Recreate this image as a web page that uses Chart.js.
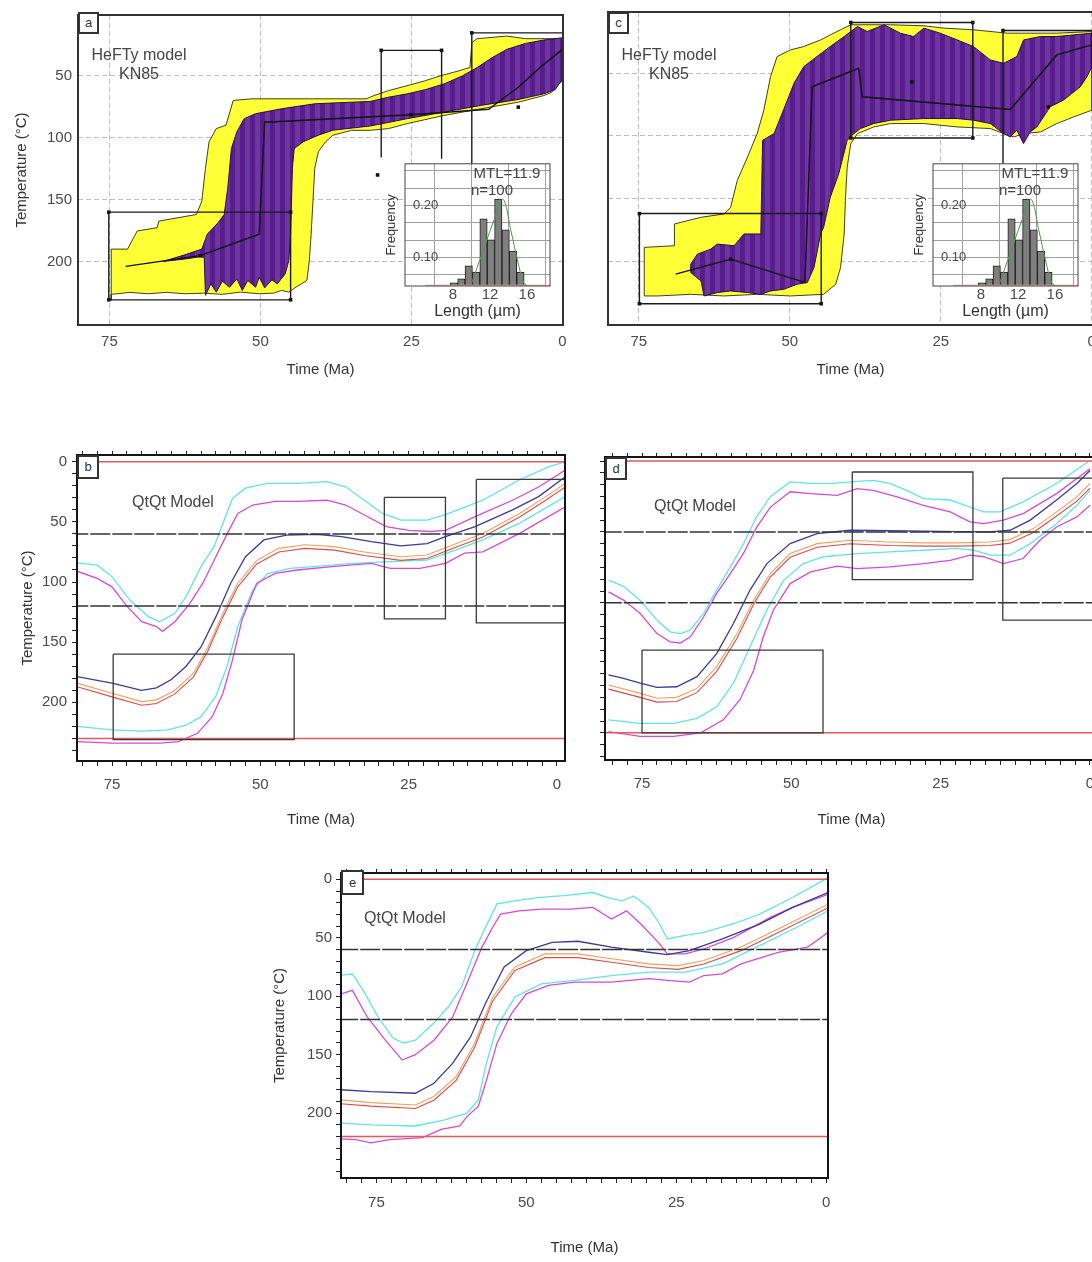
<!DOCTYPE html>
<html>
<head>
<meta charset="utf-8">
<title>HeFTy and QtQt thermal history models</title>
<script src="https://cdn.jsdelivr.net/npm/chart.js@4.4.1/dist/chart.umd.min.js"></script>
<style>
  html, body { margin:0; padding:0; overflow:hidden; background:#fff; }
  body { position:relative; width:1092px; height:1262px; font-family:"Liberation Sans", Arial, sans-serif; }
  canvas { position:absolute; }
  .tag { position:absolute; box-sizing:border-box; border:2px solid #333; background:#fff; color:#333; font-size:13px; text-align:center; }
  .note { position:absolute; transform:translate(-50%,-50%); white-space:nowrap; color:#444; font-size:16px; }
  .small { font-size:15px; }
</style>
</head>
<body>
<canvas id="cA" width="590" height="390" style="left:0;top:0"></canvas>
<canvas id="cC" width="590" height="390" style="left:530px;top:0"></canvas>
<canvas id="cB" width="590" height="400" style="left:0;top:440px"></canvas>
<canvas id="cD" width="592" height="400" style="left:528px;top:440px"></canvas>
<canvas id="cE" width="590" height="402" style="left:260px;top:860px"></canvas>
<canvas id="hA" width="190" height="180" style="left:370px;top:148px"></canvas>
<canvas id="hC" width="190" height="180" style="left:898px;top:148px"></canvas>

<div class="tag" style="left:78px;top:12px;width:21px;height:22px;line-height:18px">a</div>
<div class="tag" style="left:608px;top:12px;width:21px;height:22px;line-height:18px">c</div>
<div class="tag" style="left:77px;top:455px;width:22px;height:24px;line-height:20px">b</div>
<div class="tag" style="left:605px;top:457px;width:22px;height:23px;line-height:19px">d</div>
<div class="tag" style="left:341px;top:870px;width:23px;height:25px;line-height:21px">e</div>

<div class="note" style="left:139px;top:55px">HeFTy model</div>
<div class="note" style="left:139px;top:74px">KN85</div>
<div class="note" style="left:669px;top:55px">HeFTy model</div>
<div class="note" style="left:669px;top:74px">KN85</div>
<div class="note small" style="left:507px;top:172px">MTL=11.9</div>
<div class="note small" style="left:492px;top:189px">n=100</div>
<div class="note small" style="left:1035px;top:172px">MTL=11.9</div>
<div class="note small" style="left:1020px;top:189px">n=100</div>
<div class="note" style="left:173px;top:502px">QtQt Model</div>
<div class="note" style="left:695px;top:506px">QtQt Model</div>
<div class="note" style="left:405px;top:918px">QtQt Model</div>

<script>
// ---------- data: [time (Ma), temperature (°C)] ----------
// panel a, HeFTy
const aYellow = [[74.7,231.1],[74.7,189.8],[72.0,189.8],[70.4,175.2],[67.1,172.5],[66.8,167.2],[60.6,161.9],[59.7,151.2],[59.1,124.6],[58.5,103.2],[57.3,92.6],[55.7,89.9],[54.5,69.9],[51.4,68.6],[44.1,68.6],[32.5,68.6],[31.2,66],[28.8,62],[25.7,58],[22.7,54],[20.2,50],[17.1,46],[15.3,43.3],[15.0,23.3],[14.1,20.1],[9.2,18],[6.1,20.1],[0,20.1],
  [0,54],[0.9,58],[1.8,63.4],[3.1,66],[7.3,71.3],[13.5,76.6],[19.6,82],[25.7,88.6],[28.8,92.6],[31.8,94],[34.9,94],[38,98],[39.2,103.2],[40.4,111.2],[41,124.6],[41.3,151.2],[41.6,177.8],[41.9,199.1],[42.3,215.1],[44.1,220.4],[45.3,224.5],[46.5,223.1],[47.8,225.3],[50.2,225.8],[53.3,224.5],[56.3,226.3],[59.4,225.3],[62.5,225.8],[65.5,224.7],[68.6,225.8],[71.6,224.7],[74.7,226.3],[74.7,231.1]];
const aPurple = [[66.1,199.7],[62.5,194.4],[59.7,189.8],[58.8,177.8],[57.0,168.5],[56.0,161.9],[55.4,140.5],[54.8,108.6],[53.9,95.3],[52.7,84.6],[50.8,80.6],[46.5,76.6],[41.0,72.6],[34.9,71.3],[31.8,70.7],[28.8,67.3],[25.7,64.6],[22.7,61.2],[19.6,56.6],[16.5,50],[14.1,43.3],[11.6,35.3],[9.2,28.7],[6.1,23.9],[3.1,21.2],[0,19.4],
  [0,52.6],[1.2,61.2],[3.1,64.6],[7.3,69.1],[13.5,73.9],[19.6,79.3],[25.7,84.6],[31.8,90.5],[38.0,93.9],[40.4,97.9],[42.9,103.2],[44.4,108.6],[44.7,124.6],[45.0,177.8],[45.3,199.1],[45.9,209.8],[47.2,217.8],[48.1,214.6],[49.3,221.0],[50.2,212.5],[50.8,220.5],[52.1,215.1],[53.0,223.1],[53.9,213.8],[55.1,220.5],[56.3,215.7],[57.3,224.5],[58.2,217.8],[59.1,227.1],[59.3,196.5],[60.0,195.9],[62.5,197.8],[66.1,199.7]];
const aBest = [[72.3,203.7],[60,195.1],[50.2,177.8],[49.3,87.3],[48.4,87.3],[25.1,81.4],[12.2,77],[11,72.6],[7.3,59.3],[3.7,43.3],[0,28.7]];
const aDots = [[60,195.1],[25.1,81.4],[7.3,75.3],[75.1,160],[45,160],[75.1,230.7],[45,230.7],[30,29.5],[20,29.5],[15,15.4],[30.6,130]];
const aBox1 = [[75.1,160],[45,160],[45,230.7],[75.1,230.7],[75.1,160]];
const aBox2 = [[30,116],[30,29.5],[20,29.5],[20,117]];
const aBox3 = [[15,150],[15,15.4],[0,15.4]];

// panel c, HeFTy
const cYellow = [[74.1,227.8],[74.1,189],[69.1,187.7],[69.1,170.3],[64.7,165],[60.9,162.3],[59.8,157],[58.7,135.6],[57.0,116.8],[55.4,98.1],[54.3,79.4],[53.2,52.7],[52.1,36.6],[49.9,31.3],[47.7,28.6],[44.9,23.3],[43.3,19.3],[41.6,15.2],[39.9,11.2],[33.3,11.2],[27.8,12],[24.5,13.9],[19.6,15.2],[14.0,17.9],[5.8,17.9],[0,16.6],
  [0,79.4],[3.0,84.8],[5.8,90.1],[8.5,96.8],[11.3,98.1],[12.9,100.8],[14.6,98.1],[16.8,94.1],[22.3,92.8],[27.8,90.1],[33.3,90.1],[36.1,92.8],[38.8,98.1],[39.9,106.1],[40.5,124.9],[40.8,151.6],[41.0,178.3],[41.6,205.1],[42.4,218.4],[44.4,226.5],[49.9,227.8],[55.4,226.5],[60.9,227.8],[66.4,226.5],[71.9,227.8],[74.1,227.8]];
const cPurple = [[66.4,202.4],[65.3,194.4],[63.1,190.4],[62.0,186.4],[59.2,187.7],[57.6,178.3],[54.8,178.3],[54.5,103.5],[52.6,98.1],[50.4,71.4],[49.3,58],[47.7,44.7],[45.5,36.6],[43.3,28.6],[41.0,20.6],[38.8,12.6],[37.2,16.6],[34.4,11.2],[31.7,17.9],[29.5,20.6],[27.8,13.9],[25.1,17.9],[22.3,23.3],[19.6,28.6],[16.8,39.3],[14.6,42],[12.4,36.6],[11.3,23.3],[8.5,20.6],[5.8,20.6],[0,17.9],
  [0,44.7],[0.8,52.7],[1.9,60.7],[4.7,71.4],[6.9,76.7],[8.0,84.8],[9.1,92.8],[10.2,96.8],[11.3,106.1],[12.4,95.5],[13.5,100.8],[14.6,98.1],[16.8,90.1],[19.6,87.4],[22.3,86.1],[27.8,86.1],[33.3,87.4],[36.1,90.1],[38.3,94.1],[39.4,98.1],[40.5,103.5],[41.9,130.2],[43.3,148.9],[44.4,173],[44.9,178.3],[46.0,205.1],[47.1,217.1],[48.8,218.4],[51.0,222.5],[53.2,223.8],[54.8,226.5],[57.0,225.1],[59.8,223.8],[62.0,225.1],[64.2,227.8],[64.7,215.8],[66.4,209.1],[66.4,202.4]];
const cBest = [[68.9,210.4],[59.8,198.4],[47.5,217],[46.3,60.7],[38.6,46],[38,68.7],[13.5,78.9],[5.8,35.3],[0,27.3]];
const cDots = [[59.8,198.4],[29.8,56.7],[7.2,76.7],[74.9,162],[44.8,162],[74.9,234],[44.8,234],[39.9,9.4],[19.7,9.4],[39.9,101.6],[19.7,101.6],[14.7,15.8]];
const cBox1 = [[74.9,162],[44.8,162],[44.8,234],[74.9,234],[74.9,162]];
const cBox2 = [[39.9,9.4],[19.7,9.4],[19.7,101.6],[39.9,101.6],[39.9,9.4]];
const cBox3 = [[14.7,150],[14.7,15.8],[0,15.8]];

// panel b, QtQt
const bCyanUp = [[80.9,84],[77.5,86],[75,95.5],[72,115],[68.8,129],[67,133],[64.4,126],[62.5,112],[60,87],[57.8,70.6],[56.3,51],[54.7,30.5],[52.5,22],[48.8,18],[43.8,18],[38.8,16.6],[35.6,20.8],[32.5,32],[29.4,43],[26.3,48.5],[21.9,48.5],[18.8,44],[12.5,32],[6.3,15],[1.3,4],[-1.4,0]];
const bMagUp = [[80.9,91],[77.5,97],[75,104],[72.5,120],[70,133],[67.5,137],[66.5,141],[64.4,133],[61.9,118],[59.7,101],[57.5,79],[55.6,60],[53.8,43],[51.3,36],[47.5,33],[43.8,33],[38.8,32],[35.6,36],[31.9,45.7],[28.8,54],[25,57],[21.3,58],[18.8,57],[13.8,45.7],[7.5,32],[3.1,21],[-1.4,7]];
const bBlue = [[80.9,178.7],[75,184],[70,190],[67.5,188],[65,181],[62.5,170],[60,154],[57.5,129],[55,101],[52.5,79],[49.4,65],[45.6,61],[40.6,60.4],[36.3,62.3],[31.3,66.5],[26.3,70],[21.9,68],[18.8,62.3],[13.8,54],[7.5,40],[3.1,29],[-1.4,12.5]];
const bOrange = [[80.9,184],[75,192.5],[70,199.4],[67.5,198],[64.4,190],[61.3,176],[58.8,154],[56.3,126],[53.8,101],[50.6,82],[46.9,72],[42.5,69],[37.5,70.6],[32.5,75],[26.3,79],[21.9,77.6],[17.5,69],[12.5,59.6],[6.3,43],[1.9,29],[-1.4,18]];
const bRed = [[80.9,187],[75,195.5],[70,202.5],[67.5,201],[64.4,193],[61.3,179],[58.8,157],[56.3,129],[53.8,104],[50.6,85],[46.9,75],[42.5,72],[37.5,73.5],[32.5,78],[26.3,82],[21.9,80.5],[17.5,72],[12.5,62.5],[6.3,46],[1.9,32],[-1.4,21]];
const bCyanLow = [[80.9,220],[75,223],[70,224],[65.6,223],[62.5,219],[60,212],[57.5,195],[55.6,170],[53.8,137],[51.3,107],[48.8,93],[45,88.6],[40.6,87],[34.4,84.5],[28.1,83],[21.9,81.7],[16.9,73],[12.5,65],[6.3,51],[-1.4,29]];
const bMagLow = [[80.9,232.7],[75,234],[66.9,234],[63.8,232.7],[60.6,225.8],[58.1,212],[56.3,192.5],[54.7,165],[53.1,131.6],[50.6,101],[47.5,92.8],[43.8,90],[37.5,87],[31.3,84.5],[28.1,88.6],[23.1,88.6],[18.8,84.5],[15.6,76],[12.5,75],[6.3,59.6],[-1.4,37.4]];
const bBox1 = [[74.8,160],[44.3,160],[44.3,231],[74.8,231],[74.8,160]];
const bBox2 = [[29.1,29.6],[18.8,29.6],[18.8,130.7],[29.1,130.7],[29.1,29.6]];
const bBox3 = [[13.6,14.7],[-1.35,14.7],[-1.35,134],[13.6,134],[13.6,14.7]];

// panel d, QtQt
const dCyanUp = [[80.6,100.8],[78.1,106],[75.3,118],[72.5,134.6],[70.3,144.5],[68.6,146],[66.9,143],[64.7,129],[62.5,109],[60.2,89.6],[58,70],[55.8,47],[53.5,30],[50.2,17.7],[46.8,19],[42.9,19],[40.2,17.7],[36.3,16.3],[33.5,19],[30.7,24.8],[27.9,31.8],[23.4,33],[20.1,38.9],[17.8,43],[15.1,43],[11.2,34.6],[5.6,19],[0,-0.5]];
const dMagUp = [[80.6,110.7],[78.1,117.7],[75.3,129],[72.5,146],[70.3,153],[68.6,154],[66.9,148.7],[64.7,132],[62.5,112],[60.2,95],[58,78],[55.8,56],[53.5,39],[50.2,26],[46.8,27.6],[42.3,29],[39,23.4],[36.3,24.8],[32.3,30.4],[27.9,37.5],[23.4,43],[20.1,51.5],[17.8,53],[14.5,50],[11.2,44.5],[5.6,27.6],[0,6.5]];
const dBlue = [[80.6,181],[78.1,184],[75.3,188],[72.5,191.5],[69.2,191],[65.8,182.5],[62.5,163],[59.7,137.5],[56.9,109],[54.1,86.8],[50.2,69.9],[45.7,61.4],[40.2,58.6],[33.5,59],[27.9,59.4],[22.3,59.7],[16.7,60],[13.4,58.6],[10,50],[5.6,33],[2.2,19],[0,8]];
const dOrange = [[80.6,189.6],[75.3,196.6],[72.5,200.8],[69.2,200],[65.8,192.4],[62.5,174],[59.1,146],[56.3,117.7],[53.5,95],[50.2,78.3],[45.7,69.9],[40.2,67],[33.5,68.5],[27.9,69.3],[22.3,69.3],[16.7,68.5],[13.4,66.5],[9.5,57.2],[5.6,43],[2.2,30.4],[0,19]];
const dRed = [[80.6,193],[75.3,200],[72.5,204],[69.2,203.5],[65.8,196],[62.5,178],[59.1,150],[56.3,121],[53.5,98],[50.2,81.5],[45.7,73],[40.2,70],[33.5,71.5],[27.9,72],[22.3,72],[16.7,71.5],[13.4,69.5],[9.5,60.5],[5.6,46.5],[2.2,34],[0,23]];
const dCyanLow = [[80.6,219],[75.3,222],[69.7,222],[65.8,217.7],[62.5,208],[59.7,188],[56.9,157],[54.1,126],[51.3,101],[48,86.8],[44.6,81],[39,78.3],[33.5,76.9],[27.9,75.5],[22.3,74],[19.5,75.5],[16.7,79.7],[13.4,79.7],[10,69.9],[5.6,53],[2.2,37.5],[0,24.8]];
const dMagLow = [[80.6,229],[75.3,233],[69.7,233],[65.2,230],[61.4,219],[58.6,202],[56.3,177],[54.7,148.7],[53,126],[50.2,103.7],[46.8,93.8],[42.3,89],[39,91],[33.5,89.6],[27.9,86.8],[23.4,84],[20.1,79.7],[17.8,81],[14.5,86.8],[11.2,82.5],[8.4,67],[5.6,55.8],[2.2,47.3],[0,37.5]];
const dBox1 = [[75,160],[44.7,160],[44.7,230],[75,230],[75,160]];
const dBox2 = [[39.8,9.3],[19.6,9.3],[19.6,100.3],[39.8,100.3],[39.8,9.3]];
const dBox3 = [[14.6,14.4],[-1.5,14.4],[-1.5,134.7],[14.6,134.7],[14.6,14.4]];

// panel e, QtQt
const eCyanUp = [[80.9,82],[79,81],[77.2,95],[74.7,118],[72.2,136],[70.4,140],[68.5,137.6],[65.4,123],[63,109],[60.8,92],[58.6,61],[56.8,41],[54.9,21],[51.9,18.4],[48.1,15.6],[43.8,14],[38.9,11.3],[36.4,15.6],[34,18.4],[32.1,14.2],[29.6,24],[27.8,38],[26.5,51],[23.5,48],[20.4,45.4],[15.4,38],[11.1,29.8],[5.6,15.6],[-0.3,-1.4]];
const eMagUp = [[80.9,98],[79,95],[76.5,118],[73.5,137.6],[70.7,154.6],[68.5,150],[65.4,137.6],[62.3,118],[59.9,89],[57.4,58],[55.6,41],[54.3,29.8],[51.2,27],[47.5,25.5],[42.6,25.5],[38.9,24],[35.8,34],[33.3,27],[30.9,38.3],[27.8,55],[26.5,63.8],[23.5,63.8],[20.4,59.6],[15.4,49.6],[9.3,32.6],[5.6,24],[-0.3,12.8]];
const eBlue = [[80.9,180],[75.9,181.6],[68.5,183],[65.4,174.5],[62.3,157.4],[59.3,134.8],[56.8,106],[53.7,75],[50,61],[45.7,53.9],[41.4,53],[35.8,58],[29.6,62.4],[26.5,64.4],[22.8,61],[17.3,51],[11.1,38.3],[5.6,24],[-0.3,11.3]];
const eOrange = [[80.9,188.7],[75.9,191],[68.5,193],[65.4,185.8],[61.7,168.8],[58.6,140],[55.6,100.7],[51.9,75],[46.9,63.8],[41.4,63.8],[35.8,68],[29.6,72.3],[24.7,73.8],[20.4,69.5],[14.2,58],[8,42.5],[-0.3,21.3]];
const eRed = [[80.9,192],[75.9,194],[68.5,196],[65.4,189],[61.7,172],[58.6,143.5],[55.6,104],[51.9,78],[46.9,67],[41.4,67],[35.8,71],[29.6,75.5],[24.7,77],[20.4,72.5],[14.2,61],[8,45.5],[-0.3,24.5]];
const eCyanLow = [[80.9,208.5],[75.9,210],[68.5,211],[63.6,205.7],[59.9,200],[58,188.7],[56.8,160],[54.9,126],[51.9,100.7],[47.5,89.4],[42,86.5],[35.8,82.3],[29.6,79.4],[23.5,79.4],[17.3,72.3],[11.1,56.7],[4.9,41],[-0.3,27]];
const eMagLow = [[80.9,222],[78.4,222.7],[75.9,225.5],[72.8,222.7],[67.3,221],[64.2,214],[61.1,211],[59.9,203],[58,194],[56.8,174.5],[54.9,140.4],[52.5,115],[50,98],[46.3,90.8],[42,88],[35.8,88],[29.6,85],[26.5,86.5],[22.8,88],[20.4,82.3],[17.3,80.9],[14.2,72.3],[8,62.4],[3.1,58],[1.2,51],[-0.3,45.4]];

// reference temperatures in the QtQt panels
const pazTemps = [60, 120];
const surfaceTemp = 0;
const bFloor = 230, dFloor = 230, eFloor = 220;

// track length histogram (inset)
const histLength = [8.1, 8.9, 9.7, 10.5, 11.3, 12.1, 12.9, 13.7, 14.5, 15.3];
const histFreq = [0.051, 0.059, 0.084, 0.072, 0.174, 0.134, 0.212, 0.153, 0.112, 0.072];
const histFit = [[10,0.05],[11.2,0.11],[12.4,0.17],[13.4,0.212],[14.3,0.149],[15,0.093],[15.6,0.053],[16,0.045]];
const histBase = [[5,0.046],[18.5,0.046]];

// tick labels
const timeTicks = [75, 50, 25, 0];
const heftyTempTicks = [50, 100, 150, 200];
const qtqtTempTicks = [0, 50, 100, 150, 200];
const lengthTicks = [8, 12, 16];
const lengthGrid = [4, 8, 12, 16];
const freqTicks = [0.1, 0.2];
const freqGrid = [0.0667, 0.1, 0.1333, 0.1667, 0.2, 0.2333, 0.2667];

// ---------- drawing ----------
Chart.defaults.font.family = '"Liberation Sans", Arial, sans-serif';
Chart.defaults.font.size = 15;
Chart.defaults.color = '#4a4a4a';

const P = a => a.map(p => ({x: p[0], y: p[1]}));
function ln(data, color, width, extra) {
  return Object.assign({data: P(data), showLine: true, borderColor: color, borderWidth: width,
    pointRadius: 0, pointHoverRadius: 0, fill: false, tension: 0}, extra || {});
}

const frame = {
  id: 'frame',
  afterDatasetsDraw(chart, args, opts) {
    const a = chart.chartArea, g = chart.ctx;
    g.save();
    g.strokeStyle = opts.color || '#222';
    g.lineWidth = opts.width || 2;
    g.strokeRect(a.left, a.top, a.right - a.left, a.bottom - a.top);
    g.restore();
  }
};
const paper = {
  id: 'paper',
  beforeDraw(chart) {
    const a = chart.chartArea, g = chart.ctx;
    g.save();
    g.fillStyle = '#fff';
    g.fillRect(a.left, a.top, a.right - a.left, a.bottom - a.top);
    g.restore();
  }
};

function stripes(ctx) {
  const t = document.createElement('canvas');
  t.width = 10; t.height = 2;
  const g = t.getContext('2d');
  g.fillStyle = '#581c8c'; g.fillRect(0, 0, 10, 2);
  g.fillStyle = '#6c389f'; g.fillRect(5, 0, 5, 2);
  return ctx.createPattern(t, 'repeat');
}

function heftyChart(id, cfg) {
  const ctx = document.getElementById(id).getContext('2d');
  return new Chart(ctx, {
    type: 'scatter',
    data: { datasets: [
      ...cfg.boxes.map(b => ln(b, '#1a1a1a', 1.4)),
      ln(cfg.dots, '#111', 0, {showLine: false, pointRadius: 2.5, pointStyle: 'rect', pointBackgroundColor: '#111'}),
      ln(cfg.best, '#111', 1.4),
      ln(cfg.purple, '#2b0b4a', 1, {fill: 'shape', backgroundColor: stripes(ctx)}),
      ln(cfg.yellow, '#404018', 1, {fill: 'shape', backgroundColor: '#ffff36'})
    ]},
    options: {
      responsive: false, animation: false, events: [],
      layout: { autoPadding: false, padding: {left: 0, top: 12, right: 27, bottom: 0} },
      plugins: { legend: {display: false}, tooltip: {enabled: false}, frame: {color: '#333', width: 2} },
      scales: {
        x: {
          type: 'linear', reverse: true, min: cfg.x[0], max: cfg.x[1],
          afterBuildTicks: s => { s.ticks = timeTicks.map(v => ({value: v})); },
          afterFit: s => { s.height = 65; },
          ticks: { padding: 8, maxRotation: 0, autoSkip: false },
          grid: { color: '#bdbdbd', drawTicks: false },
          border: { display: false, dash: [5, 3] },
          title: { display: true, text: 'Time (Ma)', color: '#333', padding: {top: 0, bottom: 11} }
        },
        y: {
          type: 'linear', reverse: true, min: 1, max: 251,
          afterBuildTicks: s => { s.ticks = heftyTempTicks.map(v => ({value: v})); },
          afterFit: s => { s.width = 78; },
          ticks: { display: cfg.labels, padding: 6, autoSkip: false },
          grid: { color: '#bdbdbd', drawTicks: false },
          border: { display: false, dash: [5, 3] },
          title: { display: cfg.labels, text: 'Temperature (°C)', color: '#333', padding: {top: 13, bottom: 0} }
        }
      }
    },
    plugins: [frame]
  });
}

const qXMinor = [];
for (let v = 0; v <= 80; v += 2.5) qXMinor.push(v);
const qYMinor = [];
for (let v = 0; v <= 250; v += 10) qYMinor.push(v);

function qtqtChart(id, cfg) {
  const ctx = document.getElementById(id).getContext('2d');
  const far = [-10, 95];
  const hline = (T, color, w, extra) => ln([[far[0], T], [far[1], T]], color, w, extra);
  const xTicks = s => { s.ticks = qXMinor.filter(v => v >= cfg.x[0] && v <= cfg.x[1]).map(v => ({value: v})); };
  return new Chart(ctx, {
    type: 'scatter',
    data: { datasets: [
      ...cfg.boxes.map(b => ln(b, '#3a3a3a', 1.3)),
      ...pazTemps.map(T => hline(T, '#333', 1.5, {borderDash: [20, 2]})),
      hline(surfaceTemp, '#e25a5a', 1.5),
      hline(cfg.floor, '#e25a5a', 1.5),
      ln(cfg.blue, '#3a3a9c', 1.3),
      ln(cfg.red, '#de4b4b', 1.1),
      ln(cfg.orange, '#efa060', 1.1),
      ln(cfg.magUp, '#d64ad6', 1.3),
      ln(cfg.magLow, '#d64ad6', 1.3),
      ln(cfg.cyanUp, '#62e4e4', 1.3),
      ln(cfg.cyanLow, '#62e4e4', 1.3)
    ]},
    options: {
      responsive: false, animation: false, events: [],
      layout: { autoPadding: false, padding: {left: cfg.padLeft, top: cfg.padTop, right: cfg.padRight, bottom: 0} },
      plugins: { legend: {display: false}, tooltip: {enabled: false}, frame: {color: '#151515', width: 2} },
      scales: {
        x: {
          type: 'linear', reverse: true, min: cfg.x[0], max: cfg.x[1],
          afterBuildTicks: xTicks,
          afterFit: s => { s.height = cfg.xh; },
          ticks: { padding: cfg.xPad, maxRotation: 0, autoSkip: false,
                   callback: v => timeTicks.includes(v) ? String(v) : '' },
          grid: { drawOnChartArea: false, tickLength: 5, color: '#222' },
          border: { display: false },
          title: { display: true, text: 'Time (Ma)', color: '#333', padding: {top: 0, bottom: cfg.titlePad} }
        },
        x2: {
          type: 'linear', position: 'top', reverse: true, min: cfg.x[0], max: cfg.x[1],
          afterBuildTicks: xTicks,
          afterFit: s => { s.height = 0; },
          ticks: { display: false, autoSkip: false },
          grid: { drawOnChartArea: false, tickLength: 4, color: '#222' },
          border: { display: false }
        },
        y: {
          type: 'linear', reverse: true, min: cfg.y[0], max: cfg.y[1],
          afterBuildTicks: s => { s.ticks = qYMinor.filter(v => v >= cfg.y[0] && v <= cfg.y[1]).map(v => ({value: v})); },
          afterFit: s => { s.width = cfg.yw; },
          ticks: { padding: cfg.yPad, autoSkip: false,
                   callback: v => (cfg.labels && qtqtTempTicks.includes(v)) ? String(v) : '' },
          grid: { drawOnChartArea: false, tickLength: 5, color: '#222' },
          border: { display: false },
          title: { display: cfg.labels, text: 'Temperature (°C)', color: '#333', padding: {top: cfg.yTitlePad, bottom: 0} }
        }
      }
    },
    plugins: [frame]
  });
}

function histChart(id) {
  const ctx = document.getElementById(id).getContext('2d');
  return new Chart(ctx, {
    type: 'bar',
    data: { datasets: [
      {type: 'line', data: P(histFit), borderColor: '#4c9a4c', borderWidth: 1, pointRadius: 0, tension: 0.35},
      {type: 'line', data: P(histBase), borderColor: '#f2a2a2', borderWidth: 1.5, pointRadius: 0},
      {type: 'bar', data: histLength.map((v, i) => ({x: v, y: histFreq[i]})),
       backgroundColor: '#7f7f7f', borderColor: '#1f1f1f', borderWidth: 1, barPercentage: 1, categoryPercentage: 1}
    ]},
    options: {
      responsive: false, animation: false, events: [],
      layout: { autoPadding: false, padding: {left: 0, top: 12, right: 10, bottom: 0} },
      plugins: { legend: {display: false}, tooltip: {enabled: false}, frame: {color: '#444', width: 1} },
      scales: {
        x: {
          type: 'linear', min: 2.8, max: 18.5, offset: false,
          afterBuildTicks: s => { s.ticks = lengthGrid.map(v => ({value: v})); },
          afterFit: s => { s.height = 42; },
          ticks: { padding: 0, maxRotation: 0, autoSkip: false,
                   callback: v => lengthTicks.includes(v) ? String(v) : '' },
          grid: { color: '#a0a0a0', drawTicks: false },
          border: { display: false },
          title: { display: true, text: 'Length (µm)', color: '#333', font: {size: 16}, padding: {top: 0, bottom: 7} }
        },
        y: {
          type: 'linear', min: 0.045, max: 0.28,
          afterBuildTicks: s => { s.ticks = freqGrid.map(v => ({value: v})); },
          afterFit: s => { s.width = 35; },
          ticks: { mirror: true, padding: 8, autoSkip: false, font: {size: 13},
                   callback: v => freqTicks.some(f => Math.abs(f - v) < 1e-6) ? v.toFixed(2) : '' },
          grid: { color: '#a0a0a0', drawTicks: false },
          border: { display: false },
          title: { display: true, text: 'Frequency', color: '#333', font: {size: 13}, padding: {top: 14, bottom: 0} }
        }
      }
    },
    plugins: [paper, frame]
  });
}

heftyChart('cA', { x: [-0.1, 80.2], labels: true, yellow: aYellow, purple: aPurple, best: aBest, dots: aDots, boxes: [aBox1, aBox2, aBox3] });
heftyChart('cC', { x: [-0.2, 80.1], labels: false, yellow: cYellow, purple: cPurple, best: cBest, dots: cDots, boxes: [cBox1, cBox2, cBox3] });

qtqtChart('cB', { x: [-1.35, 80.9], y: [-5.6, 248.8], labels: true, floor: bFloor,
  padLeft: 0, padTop: 15, padRight: 25, xh: 79, yw: 77, xPad: 10, yPad: 5, titlePad: 11, yTitlePad: 19,
  boxes: [bBox1, bBox2, bBox3], blue: bBlue, red: bRed, orange: bOrange, magUp: bMagUp, magLow: bMagLow, cyanUp: bCyanUp, cyanLow: bCyanLow });
qtqtChart('cD', { x: [-1.34, 81.2], y: [-3.4, 253], labels: false, floor: dFloor,
  padLeft: 0, padTop: 17, padRight: 22, xh: 80, yw: 77, xPad: 10, yPad: 5, titlePad: 11, yTitlePad: 19,
  boxes: [dBox1, dBox2, dBox3], blue: dBlue, red: dRed, orange: dOrange, magUp: dMagUp, magLow: dMagLow, cyanUp: dCyanUp, cyanLow: dCyanLow });
qtqtChart('cE', { x: [-0.3, 80.9], y: [-5.4, 255.5], labels: true, floor: eFloor,
  padLeft: 0, padTop: 12, padRight: 22, xh: 84, yw: 81, xPad: 11, yPad: 4, titlePad: 5, yTitlePad: 11,
  boxes: [], blue: eBlue, red: eRed, orange: eOrange, magUp: eMagUp, magLow: eMagLow, cyanUp: eCyanUp, cyanLow: eCyanLow });

histChart('hA');
histChart('hC');
</script>
</body>
</html>
